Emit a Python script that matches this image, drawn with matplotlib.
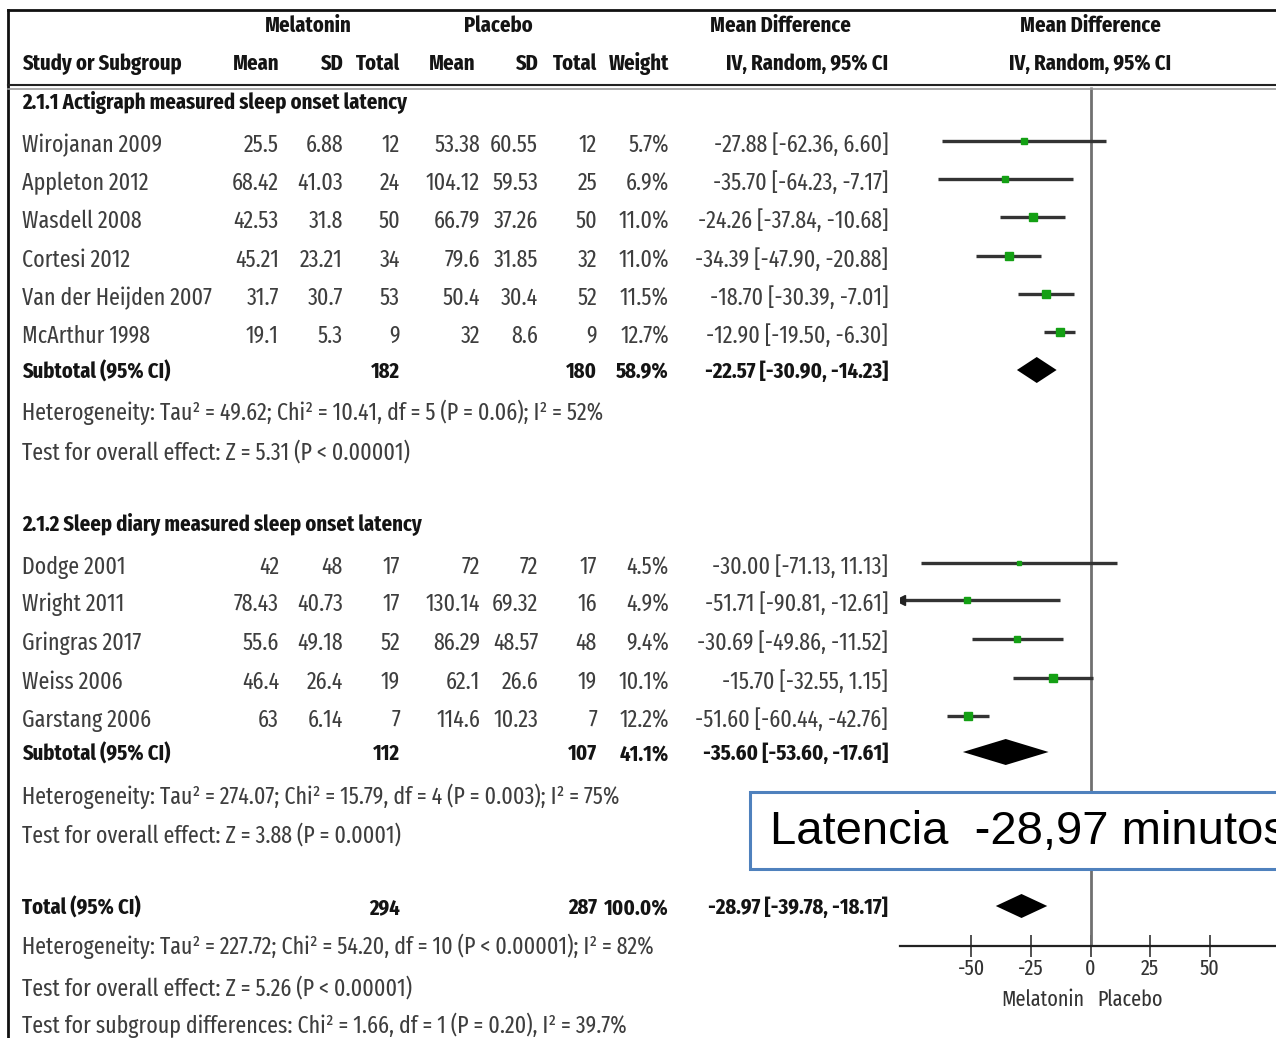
import matplotlib.pyplot as plt
from matplotlib.patches import Rectangle

# --- study data -------------------------------------------------------------
group1_name = "2.1.1 Actigraph measured sleep onset latency"
group1_studies = ["Wirojanan 2009", "Appleton 2012", "Wasdell 2008", "Cortesi 2012",
                  "Van der Heijden 2007", "McArthur 1998"]
group1_mel_mean = [25.5, 68.42, 42.53, 45.21, 31.7, 19.1]
group1_mel_sd = [6.88, 41.03, 31.8, 23.21, 30.7, 5.3]
group1_mel_n = [12, 24, 50, 34, 53, 9]
group1_pla_mean = [53.38, 104.12, 66.79, 79.6, 50.4, 32]
group1_pla_sd = [60.55, 59.53, 37.26, 31.85, 30.4, 8.6]
group1_pla_n = [12, 25, 50, 32, 52, 9]
group1_weight = [5.7, 6.9, 11.0, 11.0, 11.5, 12.7]
group1_md = [-27.88, -35.70, -24.26, -34.39, -18.70, -12.90]
group1_lo = [-62.36, -64.23, -37.84, -47.90, -30.39, -19.50]
group1_hi = [6.60, -7.17, -10.68, -20.88, -7.01, -6.30]
group1_sub = dict(mel_n=182, pla_n=180, weight=58.9, md=-22.57, lo=-30.90, hi=-14.23)
group1_het = "Heterogeneity: Tau² = 49.62; Chi² = 10.41, df = 5 (P = 0.06); I² = 52%"
group1_test = "Test for overall effect: Z = 5.31 (P < 0.00001)"

group2_name = "2.1.2 Sleep diary measured sleep onset latency"
group2_studies = ["Dodge 2001", "Wright 2011", "Gringras 2017", "Weiss 2006", "Garstang 2006"]
group2_mel_mean = [42, 78.43, 55.6, 46.4, 63]
group2_mel_sd = [48, 40.73, 49.18, 26.4, 6.14]
group2_mel_n = [17, 17, 52, 19, 7]
group2_pla_mean = [72, 130.14, 86.29, 62.1, 114.6]
group2_pla_sd = [72, 69.32, 48.57, 26.6, 10.23]
group2_pla_n = [17, 16, 48, 19, 7]
group2_weight = [4.5, 4.9, 9.4, 10.1, 12.2]
group2_md = [-30.00, -51.71, -30.69, -15.70, -51.60]
group2_lo = [-71.13, -90.81, -49.86, -32.55, -60.44]
group2_hi = [11.13, -12.61, -11.52, 1.15, -42.76]
group2_sub = dict(mel_n=112, pla_n=107, weight=41.1, md=-35.60, lo=-53.60, hi=-17.61)
group2_het = "Heterogeneity: Tau² = 274.07; Chi² = 15.79, df = 4 (P = 0.003); I² = 75%"
group2_test = "Test for overall effect: Z = 3.88 (P = 0.0001)"

total = dict(mel_n=294, pla_n=287, weight=100.0, md=-28.97, lo=-39.78, hi=-18.17)
total_notes = ["Heterogeneity: Tau² = 227.72; Chi² = 54.20, df = 10 (P < 0.00001); I² = 82%",
               "Test for overall effect: Z = 5.26 (P < 0.00001)",
               "Test for subgroup differences: Chi² = 1.66, df = 1 (P = 0.20), I² = 39.7%"]

x_ticks = [-50, -25, 0, 25, 50]
x_range = (-80, 80)
callout = "Latencia  -28,97 minutos"

# --- layout (pixel units of the canvas) -----------------------------------
W, H = 1276, 1038
FAM = ["Fira Sans Extra Condensed", "Fira Sans Condensed", "Roboto Condensed",
       "PT Sans Narrow", "Liberation Sans", "DejaVu Sans"]
GREY = "#3e3e3e"
DARK = "#141414"

# right edges of the numeric columns
c_mm, c_msd, c_mn, c_pm, c_psd, c_pn, c_w, c_ci = 279, 343, 400, 480, 538, 597, 669, 888
x_name = 22

rows1 = [144, 182, 220, 259, 297, 335]
rows2 = [566, 603, 642, 681, 719]

fig = plt.figure(figsize=(W / 100, H / 100), dpi=100)

# table panel (drawn above the forest panel)
tab = fig.add_axes([0, 0, 1, 1], zorder=2)
tab.set_xlim(0, W)
tab.set_ylim(H, 0)
tab.axis("off")

# size the table font so the heterogeneity line spans ~583 px
renderer = fig.canvas.get_renderer()
probe = tab.text(0, 0, group1_het, family=FAM, fontsize=16)
FS = 16 * 583 / probe.get_window_extent(renderer).width
probe.remove()
FS_BOLD = FS * 0.94
FS_SMALL = FS * 0.92
BASE = FS * 100 / 72 * 0.34   # baseline offset from row centre, px

# forest panel: data x in mean-difference units, y in canvas rows
ax = fig.add_axes([900 / W, 0, 381 / W, 1], zorder=1)
ax.set_xlim(*x_range)
ax.set_ylim(H, 0)
ax.patch.set_alpha(0)
for s in ("left", "right", "top"):
    ax.spines[s].set_visible(False)
ax.spines["bottom"].set_position(("data", 946))
ax.spines["bottom"].set_linewidth(1.6)
ax.spines["bottom"].set_color("#222222")
ax.set_yticks([])
ax.set_xticks(x_ticks)
ax.set_xticklabels([str(t) for t in x_ticks], family=FAM, fontsize=FS_SMALL, color="#333333")
ax.tick_params(axis="x", direction="inout", length=16, width=1.2, color="#333333", pad=1)
ax.vlines(0, 87, 946, color="#707070", lw=2)


def fmt(v):
    return f"{v:g}"


def draw_study(y, w, md, lo, hi):
    left = max(lo, x_range[0])
    ax.plot([left, hi], [y - 3, y - 3], color="#333333", lw=2.4, solid_capstyle="butt")
    if lo < x_range[0]:
        ax.plot(left, y - 3, marker="<", ms=7, color="#222222")
    ax.plot(md, y - 3, marker="s", ms=2.2 + w * 0.3, color="#14a014", mec="#14a014")


def draw_diamond(y, md, lo, hi, h=13):
    ax.fill([lo, md, hi, md], [y, y - h, y, y + h], color="black", lw=0)


for ys, ws, mds, los, his in ((rows1, group1_weight, group1_md, group1_lo, group1_hi),
                              (rows2, group2_weight, group2_md, group2_lo, group2_hi)):
    for y, w, md, lo, hi in zip(ys, ws, mds, los, his):
        draw_study(y, w, md, lo, hi)

draw_diamond(370, group1_sub["md"], group1_sub["lo"], group1_sub["hi"])
draw_diamond(752, group2_sub["md"], group2_sub["lo"], group2_sub["hi"])
draw_diamond(906, total["md"], total["lo"], total["hi"], h=12)

ax.text(-2.5, 1000, "Melatonin", ha="right", va="center", family=FAM,
        fontsize=FS_SMALL, color="#333333")
ax.text(3, 1000, "Placebo", ha="left", va="center", family=FAM,
        fontsize=FS_SMALL, color="#333333")


def put(x, y, s, ha="left", bold=False):
    tab.text(x, y + BASE, s, ha=ha, va="baseline", family=FAM,
             fontsize=FS_BOLD if bold else FS,
             fontweight="bold" if bold else "normal", color=DARK if bold else GREY)


# frame and header rules
tab.plot([8, W + 5], [10, 10], color="#111111", lw=2)
tab.plot([8, 8], [10, H + 5], color="#111111", lw=2)
tab.plot([8, W + 5], [85, 85], color="#222222", lw=1.5)
tab.plot([8, W + 5], [88.5, 88.5], color="#9a9a9a", lw=1.2)

put(308, 24, "Melatonin", ha="center", bold=True)
put(498, 24, "Placebo", ha="center", bold=True)
put(780, 24, "Mean Difference", ha="center", bold=True)
put(1090, 24, "Mean Difference", ha="center", bold=True)
put(x_name, 62, "Study or Subgroup", bold=True)
for x, s in ((c_mm, "Mean"), (c_msd, "SD"), (c_mn, "Total"), (c_pm - 5, "Mean"),
             (c_psd, "SD"), (c_pn, "Total"), (c_w, "Weight"), (c_ci, "IV, Random, 95% CI")):
    put(x, 62, s, ha="right", bold=True)
put(1090, 62, "IV, Random, 95% CI", ha="center", bold=True)


def study_row(y, name, mm, msd, mn, pm, psd, pn, w, md, lo, hi):
    put(x_name, y, name)
    put(c_mm, y, fmt(mm), ha="right")
    put(c_msd, y, fmt(msd), ha="right")
    put(c_mn, y, str(mn), ha="right")
    put(c_pm, y, fmt(pm), ha="right")
    put(c_psd, y, fmt(psd), ha="right")
    put(c_pn, y, str(pn), ha="right")
    put(c_w, y, f"{w:.1f}%", ha="right")
    put(c_ci, y, f"{md:.2f} [{lo:.2f}, {hi:.2f}]", ha="right")


def summary_row(y, label, d):
    put(x_name, y, label, bold=True)
    put(c_mn, y, str(d["mel_n"]), ha="right", bold=True)
    put(c_pn, y, str(d["pla_n"]), ha="right", bold=True)
    put(c_w, y, f"{d['weight']:.1f}%", ha="right", bold=True)
    put(c_ci, y, f"{d['md']:.2f} [{d['lo']:.2f}, {d['hi']:.2f}]", ha="right", bold=True)


put(x_name, 101, group1_name, bold=True)
for i, y in enumerate(rows1):
    study_row(y, group1_studies[i], group1_mel_mean[i], group1_mel_sd[i], group1_mel_n[i],
              group1_pla_mean[i], group1_pla_sd[i], group1_pla_n[i], group1_weight[i],
              group1_md[i], group1_lo[i], group1_hi[i])
summary_row(370, "Subtotal (95% CI)", group1_sub)
put(x_name, 412, group1_het)
put(x_name, 451, group1_test)

put(x_name, 522, group2_name, bold=True)
for i, y in enumerate(rows2):
    study_row(y, group2_studies[i], group2_mel_mean[i], group2_mel_sd[i], group2_mel_n[i],
              group2_pla_mean[i], group2_pla_sd[i], group2_pla_n[i], group2_weight[i],
              group2_md[i], group2_lo[i], group2_hi[i])
summary_row(752, "Subtotal (95% CI)", group2_sub)
put(x_name, 796, group2_het)
put(x_name, 834, group2_test)

summary_row(906, "Total (95% CI)", total)
for y, s in zip((946, 987, 1025), total_notes):
    put(x_name, y, s)

# callout box
tab.add_patch(Rectangle((750, 792), 560, 77, facecolor="white", edgecolor="#4f81bd", lw=2.2))
tab.text(770, 832, callout, ha="left", va="center", family=["Liberation Sans", "DejaVu Sans"],
         fontsize=34, color="black")

fig.savefig("out.png", dpi=100)
